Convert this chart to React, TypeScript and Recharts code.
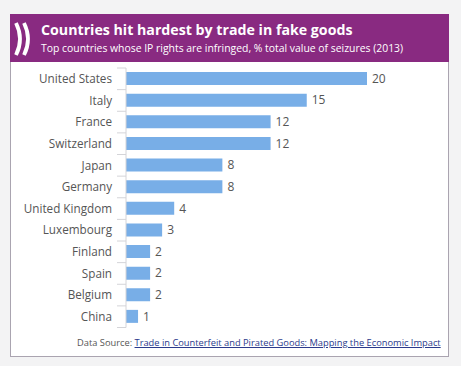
import { BarChart, Bar, XAxis, YAxis, LabelList } from 'recharts';

const countries = [
    'United States',
    'Italy',
    'France',
    'Switzerland',
    'Japan',
    'Germany',
    'United Kingdom',
    'Luxembourg',
    'Finland',
    'Spain',
    'Belgium',
    'China',
];
const seizureShare = [20, 15, 12, 12, 8, 8, 4, 3, 2, 2, 2, 1];

const titleText = 'Countries hit hardest by trade in fake goods';
const subtitleText = 'Top countries whose IP rights are infringed, % total value of seizures (2013)';
const sourceLabel = 'Data Source: ';
const sourceLink = 'Trade in Counterfeit and Pirated Goods: Mapping the Economic Impact';

const data = countries.map((name, i) => ({ name, value: seizureShare[i] }));

const FONT = '"Open Sans", "Noto Sans", sans-serif';
const CHART_W = 437;
const CHART_H = 272;
const MARGIN = { top: 6, right: 81, left: 0, bottom: 6.5 };
const STEP = (CHART_H - MARGIN.top - MARGIN.bottom) / countries.length;

type TickProps = { x?: number; y?: number; index?: number; payload?: { value: string } };

const CountryTick = ({ x = 0, y = 0, index = 0, payload }: TickProps) => {
    const half = STEP / 2;
    return (
        <g>
            <line x1={x - 9} x2={x} y1={y - half} y2={y - half} stroke="#d4d4d8" />
            {index === countries.length - 1 && (
                <line x1={x - 9} x2={x} y1={y + half} y2={y + half} stroke="#d4d4d8" />
            )}
            <text x={x - 14} y={y} dy={4.3} textAnchor="end" fill="#555" fontSize={11.7} fontFamily={FONT}>
                {payload?.value}
            </text>
        </g>
    );
};

const Chevrons = () => (
    <svg width={24} height={36} style={{ position: 'absolute', left: 3, top: 8 }}>
        <path d="M3 1 Q11 17 3 33" stroke="#fff" strokeWidth={3.8} fill="none" />
        <path d="M11 1 Q19 17 11 33" stroke="#fff" strokeWidth={3.8} fill="none" />
    </svg>
);

export default function App() {
    return (
        <div
            style={{
                position: 'fixed',
                left: 0,
                top: 0,
                width: 461,
                height: 366,
                background: '#f3f3f4',
                fontFamily: FONT,
            }}
        >
            <div
                style={{
                    position: 'absolute',
                    left: 10,
                    top: 14,
                    width: 437,
                    height: 342,
                    border: '1px solid #aaa4b0',
                    borderTop: 'none',
                    background: '#fff',
                }}
            >
                <div
                    style={{
                        position: 'relative',
                        height: 48,
                        margin: '0 -1px',
                        background: '#892a81',
                        color: '#fff',
                    }}
                >
                    <Chevrons />
                    <div
                        style={{
                            position: 'absolute',
                            left: 31,
                            top: 7,
                            fontSize: 14.2,
                            lineHeight: '18px',
                            fontWeight: 700,
                            whiteSpace: 'nowrap',
                        }}
                    >
                        {titleText}
                    </div>
                    <div
                        style={{
                            position: 'absolute',
                            left: 31,
                            top: 27,
                            fontSize: 10.4,
                            lineHeight: '14px',
                            whiteSpace: 'nowrap',
                        }}
                    >
                        {subtitleText}
                    </div>
                </div>
                <BarChart width={CHART_W} height={CHART_H} data={data} layout="vertical" margin={MARGIN}>
                    <XAxis type="number" domain={[0, 20]} hide />
                    <YAxis
                        type="category"
                        dataKey="name"
                        width={115}
                        tickSize={0}
                        tickMargin={0}
                        axisLine={{ stroke: '#d4d4d8' }}
                        tickLine={false}
                        tick={<CountryTick />}
                        interval={0}
                    />
                    <Bar dataKey="value" fill="#78aee7" barSize={13} isAnimationActive={false}>
                        <LabelList dataKey="value" position="right" offset={5} fill="#555" fontSize={12} fontFamily={FONT} />
                    </Bar>
                </BarChart>
                <div
                    style={{
                        position: 'absolute',
                        left: 66,
                        top: 322,
                        fontSize: 9.3,
                        lineHeight: '14px',
                        color: '#555',
                        whiteSpace: 'nowrap',
                    }}
                >
                    {sourceLabel}
                    <span style={{ color: '#2b3a8c', textDecoration: 'underline' }}>{sourceLink}</span>
                </div>
            </div>
        </div>
    );
}
